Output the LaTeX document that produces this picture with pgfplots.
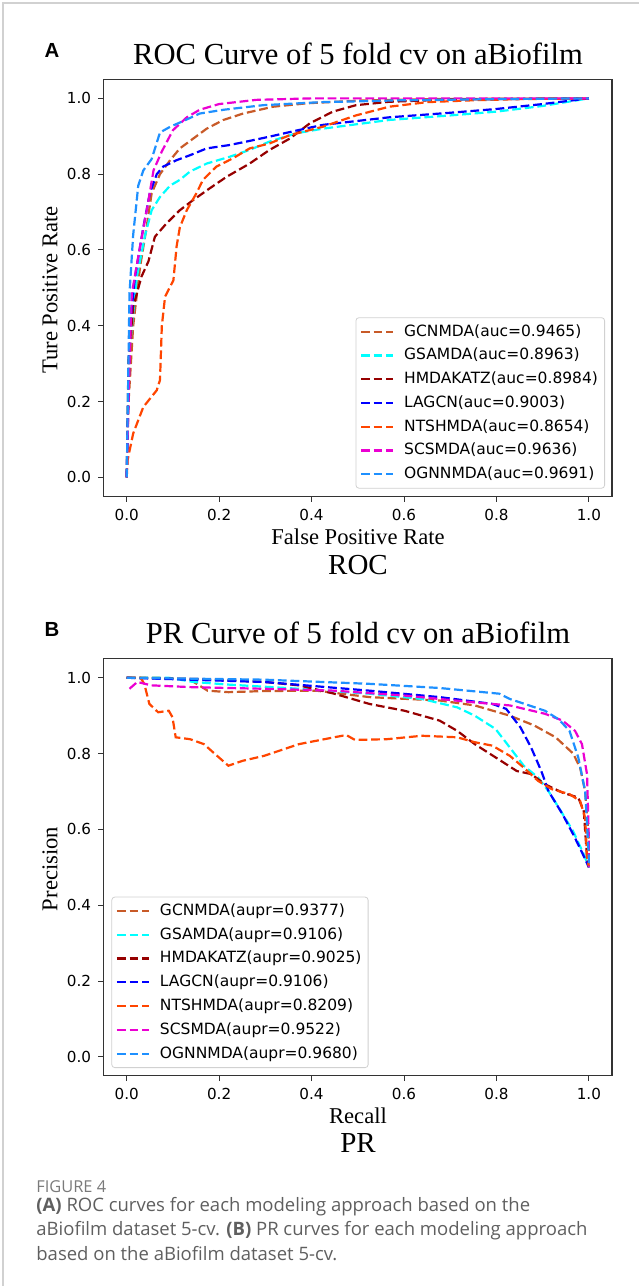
\documentclass[border=0pt]{standalone}
\usepackage{fontspec}
\setmainfont{Liberation Serif}
\newfontfamily\dejavu{DejaVu Sans}
\newfontfamily\arialf{Liberation Sans}
\newfontfamily\capfont{Open Sans}
\usepackage{pgfplots}
\pgfplotsset{compat=1.18}

\definecolor{cgcn}{RGB}{200,90,40}
\definecolor{cgsa}{RGB}{0,255,255}
\definecolor{chmd}{RGB}{150,0,0}
\definecolor{clag}{RGB}{0,0,255}
\definecolor{cnts}{RGB}{255,69,0}
\definecolor{cscs}{RGB}{235,0,210}
\definecolor{cogn}{RGB}{30,144,255}
\definecolor{capgray}{RGB}{95,95,95}

\pgfplotsset{
  panel/.style={
    scale only axis, width=254.2pt, height=208.5pt,
    xmin=-0.05, xmax=1.05, ymin=-0.05, ymax=1.05,
    xtick={0,0.2,0.4,0.6,0.8,1.0}, ytick={0,0.2,0.4,0.6,0.8,1.0},
    /pgf/number format/assume math mode=true,
    /pgf/number format/fixed, /pgf/number format/fixed zerofill,
    /pgf/number format/precision=1,
    tick label style={font=\dejavu\fontsize{7.6}{9}\selectfont},
    tick align=outside, tick pos=left, major tick length=2.7pt,
    every tick/.style={black!80, line width=0.5pt},
    axis line style={black!80, line width=0.6pt},
    legend cell align=left,
    legend style={font=\dejavu\fontsize{7.75}{9}\selectfont, draw=black!18,
      rounded corners=1.5pt, inner xsep=2pt, inner ysep=2pt, row sep=1.9pt,
      nodes={inner sep=1.3pt},
      /tikz/every odd column/.append style={column sep=3.7pt}},
    legend image code/.code={
      \draw[#1] plot coordinates {(0pt,0pt) (16pt,0pt)};},
    every axis plot/.append style={line width=1.1pt,
      dash pattern=on 4.4pt off 1.9pt, mark=none},
  }
}

\begin{document}
\begin{tikzpicture}
\path[use as bounding box] (0,0) rectangle (319.5pt,-643pt);
\draw[black!18, line width=0.8pt] (1.5pt,-643pt) -- (1.5pt,-1.5pt) -- (319.5pt,-1.5pt);

% ---------- panel A: ROC ----------
\node[font=\arialf\bfseries\fontsize{10.2}{12}\selectfont] at (26pt,-25pt) {A};
\node[anchor=base, font=\fontsize{15.3}{17}\selectfont] at (179pt,-32pt) {ROC Curve of 5 fold cv on aBiofilm};
\begin{axis}[panel, at={(51.8pt,-248.2pt)}, anchor=south west,
  legend style={at={(1,0)}, anchor=south east, xshift=-3.5pt, yshift=3.9pt}]
\addplot[cgcn] coordinates {(0,0)(0.004,0.2)(0.014,0.40)(0.029,0.556)(0.043,0.66)(0.054,0.75)(0.072,0.80)(0.094,0.837)(0.115,0.868)(0.144,0.894)(0.173,0.92)(0.209,0.943)(0.252,0.96)(0.317,0.978)(0.39,0.987)(0.5,0.994)(0.65,0.998)(1.0,1.0)};
\addlegendentry{GCNMDA(auc=0.9465)}
\addplot[cgsa] coordinates {(0,0)(0.004,0.31)(0.022,0.53)(0.04,0.64)(0.054,0.705)(0.072,0.74)(0.094,0.77)(0.115,0.785)(0.137,0.807)(0.173,0.828)(0.223,0.846)(0.266,0.864)(0.309,0.886)(0.367,0.908)(0.424,0.92)(0.568,0.943)(0.7,0.955)(0.8,0.965)(0.9,0.98)(1.0,1.0)};
\addlegendentry{GSAMDA(auc=0.8963)}
\addplot[chmd] coordinates {(0,0)(0.004,0.31)(0.014,0.45)(0.032,0.53)(0.047,0.57)(0.061,0.635)(0.086,0.67)(0.115,0.705)(0.144,0.732)(0.18,0.763)(0.216,0.793)(0.266,0.828)(0.309,0.864)(0.353,0.894)(0.396,0.934)(0.446,0.965)(0.496,0.982)(0.568,0.991)(0.7,0.997)(1.0,1.0)};
\addlegendentry{HMDAKATZ(auc=0.8984)}
\addplot[clag] coordinates {(0,0)(0.007,0.40)(0.018,0.53)(0.036,0.66)(0.05,0.75)(0.065,0.80)(0.079,0.82)(0.108,0.837)(0.137,0.85)(0.173,0.868)(0.223,0.877)(0.259,0.886)(0.309,0.899)(0.367,0.915)(0.424,0.93)(0.568,0.95)(0.7,0.962)(0.8,0.972)(0.9,0.985)(1.0,1.0)};
\addlegendentry{LAGCN(auc=0.9003)}
\addplot[cnts] coordinates {(0,0)(0.002,0.046)(0.014,0.116)(0.036,0.186)(0.065,0.23)(0.072,0.257)(0.076,0.40)(0.083,0.477)(0.101,0.52)(0.108,0.61)(0.115,0.66)(0.13,0.705)(0.151,0.75)(0.165,0.785)(0.194,0.82)(0.23,0.842)(0.266,0.868)(0.309,0.881)(0.353,0.903)(0.424,0.925)(0.496,0.955)(0.568,0.978)(0.65,0.99)(0.75,0.995)(0.85,0.998)(1.0,1.0)};
\addlegendentry{NTSHMDA(auc=0.8654)}
\addplot[cscs] coordinates {(0,0)(0.004,0.22)(0.011,0.485)(0.029,0.61)(0.047,0.73)(0.058,0.81)(0.076,0.86)(0.1,0.916)(0.13,0.95)(0.158,0.97)(0.2,0.985)(0.28,0.996)(0.4,1.0)(1.0,1.0)};
\addlegendentry{SCSMDA(auc=0.9636)}
\addplot[cogn] coordinates {(0,0)(0.006,0.485)(0.014,0.64)(0.025,0.77)(0.036,0.81)(0.054,0.84)(0.072,0.91)(0.094,0.925)(0.122,0.94)(0.158,0.96)(0.21,0.97)(0.295,0.982)(0.42,0.99)(0.6,0.995)(0.8,0.998)(1.0,1.0)};
\addlegendentry{OGNNMDA(auc=0.9691)}
\end{axis}
\node[rotate=90, font=\fontsize{11.3}{13}\selectfont] at (25pt,-145pt) {Ture Positive Rate};
\node[font=\fontsize{11.3}{13}\selectfont] at (179pt,-268.3pt) {False Positive Rate};
\node[font=\fontsize{14.5}{17}\selectfont] at (179pt,-282.5pt) {ROC};

% ---------- panel B: PR ----------
\node[font=\arialf\bfseries\fontsize{10.2}{12}\selectfont] at (26pt,-314.6pt) {B};
\node[anchor=base, font=\fontsize{15.3}{17}\selectfont] at (179pt,-321.6pt) {PR Curve of 5 fold cv on aBiofilm};
\begin{axis}[panel, at={(51.8pt,-537.9pt)}, anchor=south west,
  legend style={at={(0,0)}, anchor=south west, xshift=3.9pt, yshift=3.9pt}]
\addplot[cgcn] coordinates {(0,1.0)(0.068,1.0)(0.137,0.995)(0.175,0.966)(0.22,0.962)(0.297,0.965)(0.41,0.966)(0.525,0.949)(0.677,0.94)(0.753,0.927)(0.829,0.90)(0.882,0.874)(0.928,0.843)(0.966,0.80)(0.981,0.763)(0.992,0.70)(1.0,0.57)(1.0,0.5)};
\addlegendentry{GCNMDA(aupr=0.9377)}
\addplot[cgsa] coordinates {(0,1.0)(0.091,1.0)(0.144,0.989)(0.22,0.982)(0.373,0.971)(0.525,0.958)(0.639,0.944)(0.715,0.922)(0.753,0.90)(0.798,0.865)(0.829,0.816)(0.859,0.768)(0.89,0.737)(0.913,0.70)(0.935,0.657)(0.966,0.595)(0.989,0.534)(1.0,0.5)};
\addlegendentry{GSAMDA(aupr=0.9106)}
\addplot[chmd] coordinates {(0,1.0)(0.144,0.997)(0.297,0.989)(0.373,0.98)(0.449,0.958)(0.525,0.931)(0.601,0.913)(0.677,0.887)(0.715,0.86)(0.753,0.825)(0.798,0.79)(0.844,0.754)(0.875,0.746)(0.905,0.719)(0.943,0.697)(0.977,0.684)(0.989,0.648)(0.996,0.525)(1.0,0.5)};
\addlegendentry{HMDAKATZ(aupr=0.9025)}
\addplot[clag] coordinates {(0,1.0)(0.297,0.989)(0.525,0.966)(0.677,0.949)(0.791,0.931)(0.821,0.918)(0.852,0.869)(0.875,0.816)(0.897,0.754)(0.913,0.70)(0.943,0.64)(0.966,0.587)(0.981,0.55)(1.0,0.5)};
\addlegendentry{LAGCN(aupr=0.9106)}
\addplot[cnts] coordinates {(0,1.0)(0.03,1.0)(0.038,0.984)(0.049,0.931)(0.068,0.909)(0.091,0.913)(0.099,0.896)(0.106,0.843)(0.137,0.838)(0.167,0.825)(0.19,0.80)(0.22,0.768)(0.251,0.781)(0.297,0.794)(0.373,0.825)(0.449,0.843)(0.475,0.849)(0.494,0.836)(0.563,0.838)(0.639,0.847)(0.715,0.843)(0.753,0.83)(0.791,0.821)(0.829,0.794)(0.859,0.763)(0.89,0.728)(0.92,0.706)(0.958,0.693)(0.981,0.675)(0.992,0.63)(0.996,0.525)(1.0,0.5)};
\addlegendentry{NTSHMDA(aupr=0.8209)}
\addplot[cscs] coordinates {(0.006,0.971)(0.023,0.989)(0.053,0.98)(0.144,0.975)(0.297,0.971)(0.449,0.966)(0.601,0.953)(0.753,0.935)(0.829,0.927)(0.905,0.905)(0.943,0.887)(0.97,0.86)(0.985,0.825)(0.996,0.745)(1.0,0.57)(1.0,0.5)};
\addlegendentry{SCSMDA(aupr=0.9522)}
\addplot[cogn] coordinates {(0,1.0)(0.297,0.995)(0.525,0.984)(0.677,0.973)(0.806,0.958)(0.829,0.944)(0.905,0.913)(0.935,0.89)(0.958,0.86)(0.977,0.79)(0.992,0.70)(1.0,0.525)(1.0,0.5)};
\addlegendentry{OGNNMDA(aupr=0.9680)}
\end{axis}
\node[rotate=90, font=\fontsize{11.3}{13}\selectfont] at (25pt,-434.5pt) {Precision};
\node[font=\fontsize{11.3}{13}\selectfont] at (179pt,-558pt) {Recall};
\node[font=\fontsize{14.5}{17}\selectfont] at (179pt,-571.5pt) {PR};

% ---------- caption ----------
\begin{scope}[every node/.style={anchor=west, inner sep=0pt, text=capgray}]
\node[font=\capfont\fontsize{8.2}{10}\selectfont, text=black!52] at (18pt,-593.5pt) {FIGURE 4};
\node[font=\capfont\fontsize{9.25}{11}\selectfont] at (18pt,-603.5pt) {\textbf{(A)} ROC curves for each modeling approach based on the};
\node[font=\capfont\fontsize{9.25}{11}\selectfont] at (18pt,-615.2pt) {aBiofilm dataset 5-cv. \textbf{(B)} PR curves for each modeling approach};
\node[font=\capfont\fontsize{9.25}{11}\selectfont] at (18pt,-626.9pt) {based on the aBiofilm dataset 5-cv.};
\end{scope}
\end{tikzpicture}
\end{document}
